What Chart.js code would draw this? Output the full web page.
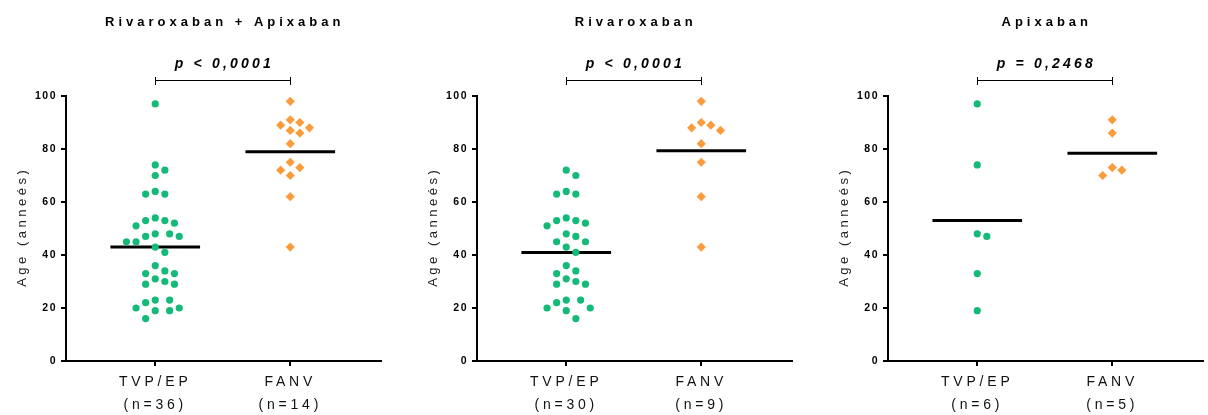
<!DOCTYPE html>
<html>
<head>
<meta charset="utf-8">
<script src="https://cdn.jsdelivr.net/npm/chart.js@4/dist/chart.umd.min.js"></script>
<style>
  body { margin: 0; background: #fff; }
  #wrap { position: relative; width: 1208px; height: 415px; }
  canvas { position: absolute; top: 0; }
</style>
</head>
<body>
<div id="wrap">
  <canvas id="c1" width="386" height="415" style="left:0px"></canvas>
  <canvas id="c2" width="386" height="415" style="left:411px"></canvas>
  <canvas id="c3" width="386" height="415" style="left:822px"></canvas>
</div>
<script>
// groups and panel texts
const categories = ['TVP/EP', 'FANV'];
const titles = ['Rivaroxaban + Apixaban', 'Rivaroxaban', 'Apixaban'];
const pValues = ['p < 0,0001', 'p < 0,0001', 'p = 0,2468'];
const yTicks = [0, 20, 40, 60, 80, 100];

// ages
const tvpBoth = [97, 74, 72, 70, 64, 63, 63, 54, 53, 53, 52, 51, 48, 48, 47, 47, 45, 45, 43, 41,
                 36, 34, 33, 33, 31, 30, 29, 29, 23, 23, 22, 20, 20, 19, 19, 16];
const fanvBoth = [98, 91, 90, 89, 88, 87, 86, 82, 75, 73, 72, 70, 62, 43];
const tvpRiva = [72, 70, 64, 63, 63, 54, 53, 53, 52, 51, 48, 47, 45, 45, 43, 41, 36, 34, 33, 31,
                 30, 29, 29, 23, 23, 22, 20, 20, 19, 16];
const fanvRiva = [98, 90, 89, 88, 87, 82, 75, 62, 43];
const tvpApix = [97, 74, 48, 47, 33, 19];
const fanvApix = [91, 86, 73, 72, 70];

const GREEN = '#16BA78';
const ORANGE = '#FB9C3C';
const FONT = "'Liberation Sans', Arial, sans-serif";

Chart.defaults.font.family = FONT;
Chart.defaults.color = '#000';

const mean = arr => arr.reduce((a, b) => a + b, 0) / arr.length;

// spread points sideways so they do not overlap (beeswarm)
function swarm(values, cat, xs, ys, d) {
  const cx = xs.getPixelForValue(cat);
  const order = values.map((v, i) => i).sort((a, b) => values[b] - values[a]);
  const placed = [];
  const out = new Array(values.length);
  const step = d / 2;
  for (const i of order) {
    const py = ys.getPixelForValue(values[i]);
    let off = 0;
    for (let n = 0; n < 60; n++) {
      off = n === 0 ? 0 : (n % 2 ? 1 : -1) * Math.ceil(n / 2) * step;
      const px = cx + off;
      if (placed.every(p => (p.x - px) ** 2 + (p.y - py) ** 2 >= d * d)) break;
    }
    placed.push({ x: cx + off, y: py });
    out[i] = { x: xs.getValueForPixel(cx + off), y: values[i] };
  }
  return out;
}

// letter spacing: wide for titles / x labels, tighter for y ticks (drawn after datasets)
const spacingPlugin = {
  id: 'spacing',
  beforeDraw(chart) { chart.ctx.letterSpacing = '3.8px'; },
  afterDatasetsDraw(chart) { chart.ctx.letterSpacing = '1.5px'; }
};

const headerPlugin = {
  id: 'header',
  afterDraw(chart, args, opts) {
    const ctx = chart.ctx;
    const x1 = chart.scales.x.getPixelForValue(1);
    const x2 = chart.scales.x.getPixelForValue(2);
    const mid = (x1 + x2) / 2;
    ctx.save();
    ctx.fillStyle = '#000';
    ctx.textAlign = 'center';
    ctx.textBaseline = 'middle';
    ctx.letterSpacing = '4px';
    ctx.font = 'bold 13px ' + FONT;
    ctx.fillText(opts.title, mid + 2, 22);
    ctx.letterSpacing = '3.2px';
    ctx.font = 'italic bold 14px ' + FONT;
    ctx.fillText(opts.p, mid + 1.6, 64);
    // y title drawn here so it keeps the wide spacing
    ctx.letterSpacing = '3.5px';
    ctx.font = '13px ' + FONT;
    ctx.fillStyle = '#222';
    ctx.translate(22, (chart.chartArea.top + chart.chartArea.bottom) / 2);
    ctx.rotate(-Math.PI / 2);
    ctx.fillText(opts.yTitle, 1.7, 0);
    ctx.restore();
    ctx.save();
    ctx.strokeStyle = '#000';
    ctx.lineWidth = 1;
    ctx.beginPath();
    ctx.moveTo(Math.round(x1) + 0.5, 77);
    ctx.lineTo(Math.round(x1) + 0.5, 85);
    ctx.moveTo(Math.round(x1), 80.5);
    ctx.lineTo(Math.round(x2) + 1, 80.5);
    ctx.moveTo(Math.round(x2) + 0.5, 77);
    ctx.lineTo(Math.round(x2) + 0.5, 85);
    ctx.stroke();
    ctx.restore();
    ctx.letterSpacing = '0px';
  }
};

function makePanel(id, title, p, tvp, fanv) {
  const labels = [
    [categories[0], '(n=' + tvp.length + ')'],
    [categories[1], '(n=' + fanv.length + ')']
  ];
  const half = 0.332;
  const chart = new Chart(document.getElementById(id), {
    type: 'scatter',
    data: {
      datasets: [
        { data: tvp.map(v => ({ x: 1, y: v })), pointStyle: 'circle', pointRadius: 3.6,
          backgroundColor: GREEN, borderColor: GREEN, borderWidth: 0 },
        { data: fanv.map(v => ({ x: 2, y: v })), pointStyle: 'rectRot', pointRadius: 4.6,
          backgroundColor: ORANGE, borderColor: ORANGE, borderWidth: 0 },
        { type: 'line', data: [{ x: 1 - half, y: mean(tvp) }, { x: 1 + half, y: mean(tvp) }],
          borderColor: '#000', borderWidth: 3, pointRadius: 0, borderCapStyle: 'butt' },
        { type: 'line', data: [{ x: 2 - half, y: mean(fanv) }, { x: 2 + half, y: mean(fanv) }],
          borderColor: '#000', borderWidth: 3, pointRadius: 0, borderCapStyle: 'butt' }
      ]
    },
    options: {
      responsive: false,
      devicePixelRatio: 1,
      animation: false,
      events: [],
      layout: { padding: { top: 96, left: 0, right: 0, bottom: 0 } },
      plugins: {
        legend: { display: false },
        tooltip: { enabled: false },
        header: { title: title, p: p, yTitle: 'Age (anneés)' }
      },
      scales: {
        x: {
          type: 'linear',
          min: 0.339,
          max: 2.675,
          afterBuildTicks: s => { s.ticks = [{ value: 1 }, { value: 2 }]; },
          afterFit: s => { s.height = 54; },
          ticks: {
            callback: v => labels[v - 1],
            font: { size: 14, lineHeight: 1.62 },
            color: '#111',
            padding: 5,
            maxRotation: 0,
            autoSkip: false
          },
          grid: { drawOnChartArea: false, drawTicks: true, tickLength: 5, color: '#000', lineWidth: 2 },
          border: { display: true, color: '#000', width: 2 }
        },
        y: {
          min: 0,
          max: 100,
          afterBuildTicks: s => { s.ticks = yTicks.map(v => ({ value: v })); },
          afterFit: s => { s.width = 66; },
          ticks: { z: 1, font: { size: 10.5, weight: 'bold' }, padding: 4 },
          grid: { drawOnChartArea: false, drawTicks: true, tickLength: 5, color: '#000', lineWidth: 2 },
          border: { display: true, color: '#000', width: 2 }
        }
      }
    },
    plugins: [spacingPlugin, headerPlugin]
  });

  const xs = chart.scales.x, ys = chart.scales.y;
  chart.data.datasets[0].data = swarm(tvp, 1, xs, ys, 9.6);
  chart.data.datasets[1].data = swarm(fanv, 2, xs, ys, 9.6);
  chart.update('none');
  return chart;
}

makePanel('c1', titles[0], pValues[0], tvpBoth, fanvBoth);
makePanel('c2', titles[1], pValues[1], tvpRiva, fanvRiva);
makePanel('c3', titles[2], pValues[2], tvpApix, fanvApix);
</script>
</body>
</html>
